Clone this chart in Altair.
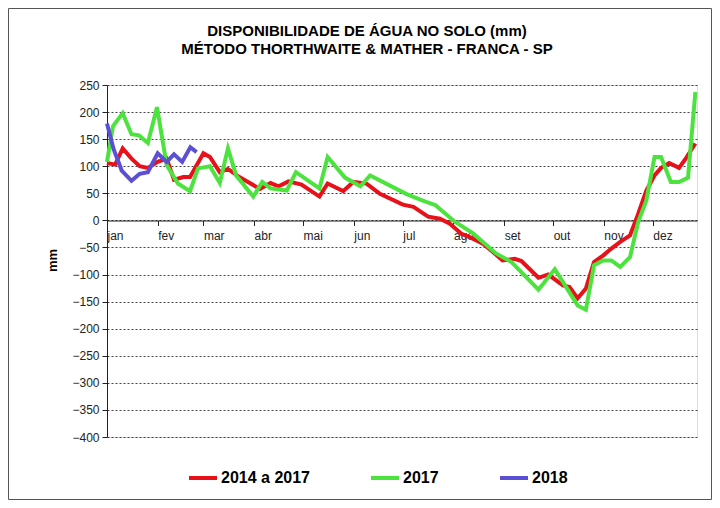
import altair as alt
import pandas as pd

# ---- data ----
months = ["jan", "fev", "mar", "abr", "mai", "jun", "jul", "ago", "set", "out", "nov", "dez"]
month_start = [0, 31, 59, 90, 120, 151, 181, 212, 243, 273, 304, 334]
y_ticks = list(range(-400, 251, 50))

title_lines = ["DISPONIBILIDADE DE ÁGUA NO SOLO (mm)", "MÉTODO THORTHWAITE & MATHER - FRANCA - SP"]

series_names = ["2014 a 2017", "2017", "2018"]
series_colors = ["#E8111A", "#4DE33F", "#5B4FD3"]

red_day = [0, 5, 9.6, 15, 20, 25, 31, 36.5, 41, 46.7, 50.8, 59, 63, 69, 74, 81, 93.6, 100, 105, 111,
           119, 130, 135, 144.5, 150.7, 158.8, 167, 181, 187.5, 196.5, 203.7, 209.8, 217, 222, 230, 236,
           242, 249.5, 253.6, 264, 270, 279, 283, 288, 293, 298, 303.5, 308.6, 313.8, 320, 325, 330,
           335, 339, 344, 350, 354.5, 360]
red_val = [106, 103, 133, 114, 100, 97, 108, 114, 75, 80, 80, 124, 117, 89, 95, 80, 58, 69, 63, 72,
           66, 44, 68, 54, 71, 68, 49, 29, 25, 7, 3, -6, -25, -31, -43, -58,
           -74, -71, -75, -106, -100, -120, -123, -144, -126, -77, -65, -52, -40, -28, 12, 55,
           83, 97, 106, 97, 116, 142]

green_day = [0, 3.7, 9.6, 15, 19.6, 25, 30.6, 36.5, 43.4, 50.8, 55.7, 63, 69, 74, 79, 89.5, 95, 100,
             110, 115.6, 130, 135, 145.6, 155, 161, 183, 192, 201, 213, 224, 238, 247.5, 264, 274,
             288, 293, 298, 303.5, 308.6, 314, 320, 325, 330, 335, 339, 345, 350, 355.5, 360]
green_val = [108, 174, 198, 159, 157, 143, 209, 102, 68, 54, 96, 100, 69, 133, 83, 44, 71, 59,
             55, 89, 59, 117, 79, 63, 83, 49, 38, 28, -3, -24, -61, -77, -128, -90,
             -157, -165, -83, -74, -74, -86, -68, -3, 37, 117, 117, 71, 71, 79, 237]

blue_day = [0, 4, 9, 15, 20, 25, 31, 36.5, 41, 46, 51, 54.8]
blue_val = [179, 132, 92, 73, 86, 89, 124, 108, 122, 108, 135, 126]

rows = []
for name, days, vals in zip(series_names, [red_day, green_day, blue_day], [red_val, green_val, blue_val]):
    for d, v in zip(days, vals):
        rows.append({"dia": d, "mm": v, "serie": name})
df = pd.DataFrame(rows)

FONT = "Liberation Sans"

label_expr = "[" + ",".join("'%s'" % m for m in months) + "][indexof([" + \
    ",".join(str(s) for s in month_start) + "], datum.value)]"

lines = alt.Chart(df).mark_line(strokeWidth=4).encode(
    x=alt.X("dia:Q",
            scale=alt.Scale(domain=[0, 361], nice=False, zero=False),
            axis=alt.Axis(values=month_start, labelExpr=label_expr, offset=-216.5, grid=False,
                          title=None, labelAlign="left", labelBaseline="top", tickSize=5,
                          tickColor="#222", domainColor="#222", labelFontSize=12, labelColor="#222",
                          labelPadding=5, labelFlush=False, labelOverlap=False, labelFont=FONT)),
    y=alt.Y("mm:Q",
            scale=alt.Scale(domain=[-400, 250], nice=False),
            axis=alt.Axis(values=y_ticks, title="mm", titleFont=FONT, titleFontSize=13,
                          titleFontWeight="bold", titleColor="black", titleAngle=270,
                          titleX=-55, titleY=175, titleAlign="center", titleBaseline="middle",
                          labelFont=FONT, labelFontSize=12, labelColor="#222", labelPadding=3,
                          tickSize=5, tickColor="#222", domainColor="#222",
                          grid=True, gridDash=[2, 2], gridColor="#444", gridWidth=1)),
    color=alt.Color("serie:N",
                    scale=alt.Scale(domain=series_names, range=series_colors),
                    legend=alt.Legend(title=None, orient="none", legendX=80, legendY=377,
                                      direction="horizontal", symbolType="stroke",
                                      symbolSize=784, symbolStrokeWidth=4, labelOffset=2,
                                      columnPadding=53, labelFont=FONT, labelFontSize=16,
                                      labelFontWeight="bold", labelColor="black", labelLimit=300)),
)

title1 = alt.Chart(pd.DataFrame({"a": [0]})).mark_text(
    font=FONT, fontSize=15, fontWeight="bold", color="black", align="center", baseline="middle"
).encode(x=alt.value(260), y=alt.value(-54), text=alt.value(title_lines[0]))

title2 = alt.Chart(pd.DataFrame({"a": [0]})).mark_text(
    font=FONT, fontSize=15, fontWeight="bold", color="black", align="center", baseline="middle"
).encode(x=alt.value(260), y=alt.value(-36), text=alt.value(title_lines[1]))

frame = alt.Chart(pd.DataFrame({"a": [0]})).mark_rect(
    fill=None, stroke="#555", strokeWidth=1
).encode(
    x=alt.value(-98.5), x2=alt.value(604.5), y=alt.value(-76.5), y2=alt.value(414.5)
)

chart = alt.layer(lines, title1, title2, frame).properties(
    width=590, height=352,
    autosize=alt.AutoSizeParams(type="none"),
    padding={"left": 99, "top": 77, "right": 15, "bottom": 63},
).configure_view(stroke="#888", strokeWidth=1.5).configure(background="white")

chart.save("out.html", embed_options={"renderer": "svg", "actions": False})
